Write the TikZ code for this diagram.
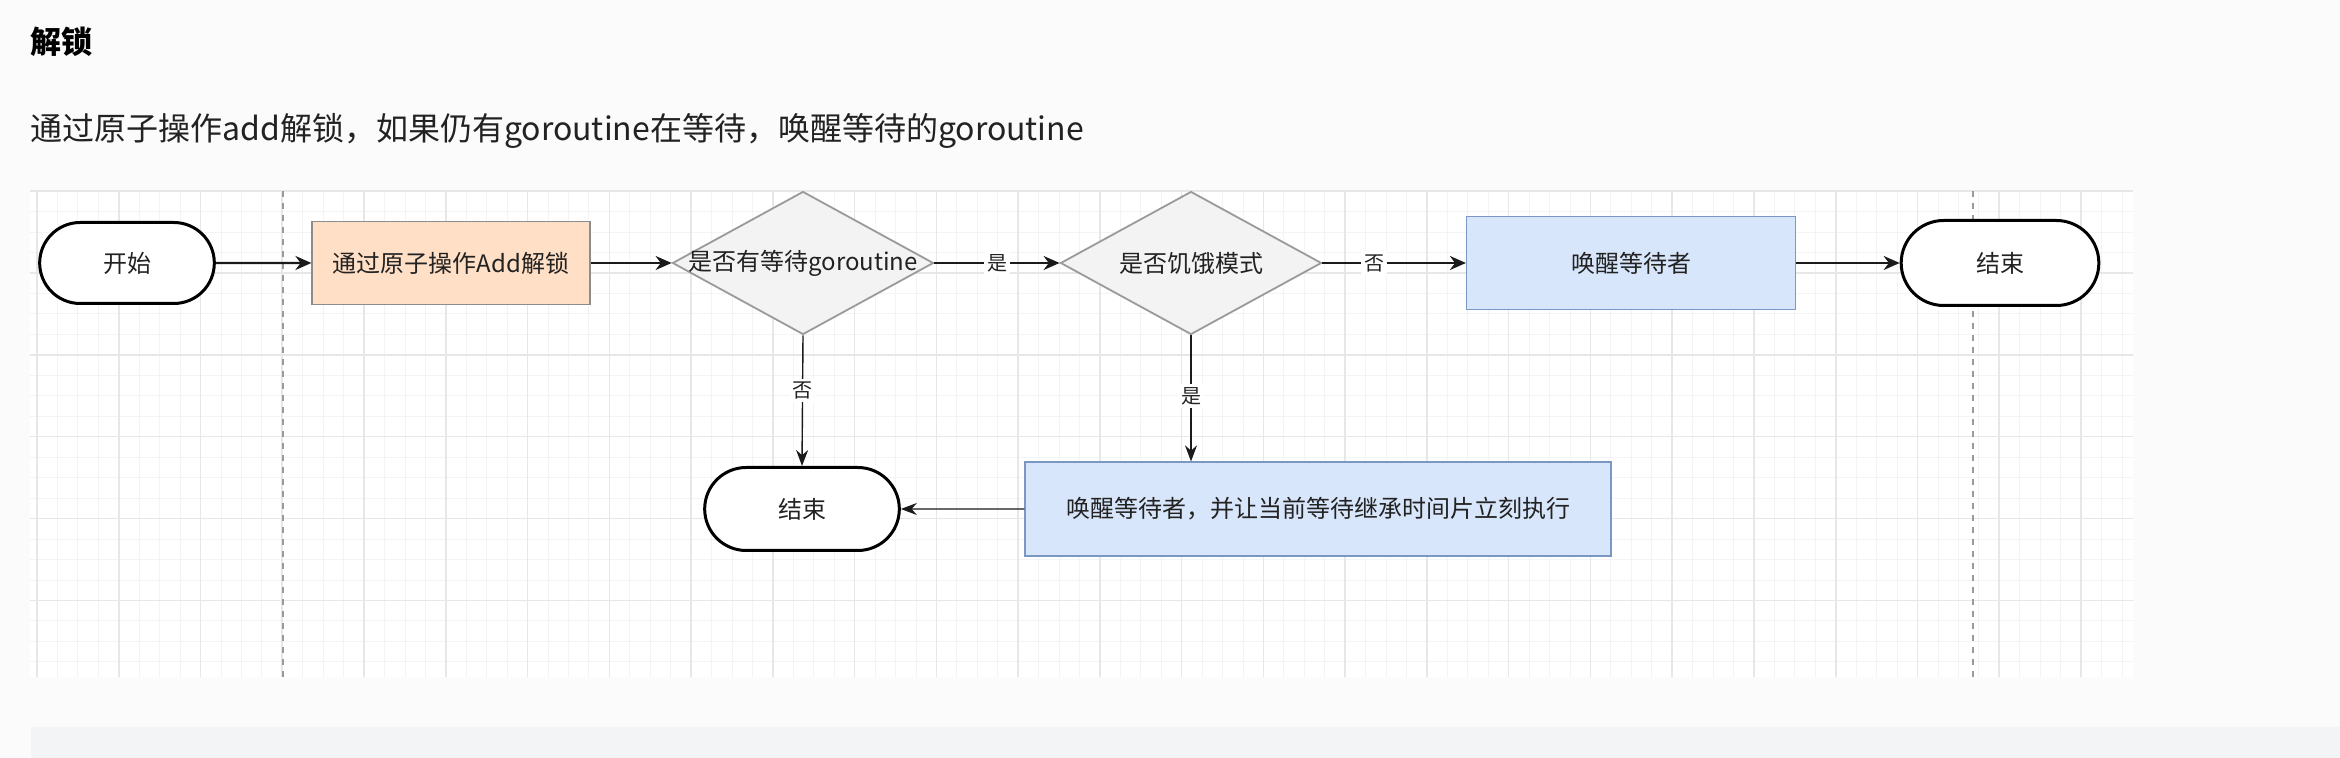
\documentclass[tikz,border=0pt]{standalone}
\usepackage{fontspec}
\newfontfamily\cjk{Noto Sans CJK SC}
\usetikzlibrary{arrows.meta,shapes.geometric,shapes.misc}
\tikzset{
  terminal/.style={rounded rectangle, draw=black, line width=1.5pt, fill=white, text=txtcol, font=\cjk\fontsize{12}{14}\selectfont},
  process/.style={rectangle, line width=0.6pt, text=txtcol, font=\cjk\fontsize{12}{14}\selectfont},
  decision/.style={diamond, draw=decline, fill=decfill, line width=0.9pt, inner sep=0pt, minimum width=130.5pt, minimum height=71.5pt, text=txtcol, font=\cjk\fontsize{12}{14}\selectfont},
  flow/.style={-{Stealth[length=8pt,width=7pt]}, line width=1.1pt, draw=linecol},
  thinflow/.style={-{Stealth[length=8pt,width=6pt]}, line width=0.7pt, draw=linecol},
  edgelabel/.style={fill=white, inner sep=1.5pt, text=txtcol, font=\cjk\fontsize{10}{12}\selectfont},
  minorline/.style={draw=gridminor, line width=0.4pt},
  majorline/.style={draw=gridmajor, line width=0.8pt},
}
\begin{document}
\begin{tikzpicture}[x=0.5pt, y=-0.5pt]
\definecolor{pagebg}{HTML}{FBFBFB}
\definecolor{bandcol}{HTML}{F3F4F6}
\definecolor{gridminor}{HTML}{F4F4F4}
\definecolor{gridmajor}{HTML}{E7E7E7}
\definecolor{txtcol}{HTML}{222222}
\definecolor{linecol}{HTML}{1A1A1A}
\definecolor{decline}{HTML}{9A9A9A}
\definecolor{decfill}{HTML}{F3F3F3}
\definecolor{addfill}{HTML}{FFDFC6}
\definecolor{addline}{HTML}{8C8C8C}
\definecolor{wakefill}{HTML}{D8E6FB}
\definecolor{wakeline}{HTML}{7B98C4}
\useasboundingbox (0,0) rectangle (2340,758);
\fill[pagebg] (0,0) rectangle (2340,758);
\fill[bandcol] (31,727) rectangle (2340,758);
\fill[white] (30,191) rectangle (2133,677);
\foreach \i in {0,...,102} \draw[minorline] ({37+20.44*\i},191) -- ({37+20.44*\i},677);
\foreach \j in {0,...,23} \draw[minorline] (30,{191+20.47*\j}) -- (2133,{191+20.47*\j});
\foreach \i in {0,...,25} \draw[majorline] ({37+81.76*\i},191) -- ({37+81.76*\i},677);
\foreach \j in {0,...,5} \draw[majorline] (30,{191+81.9*\j}) -- (2133,{191+81.9*\j});
\draw[decline, dashed, line width=0.8pt] (283,191) -- (283,677) (1973,191) -- (1973,677);
\node[anchor=west, inner sep=0pt, text=black, font=\cjk\bfseries\fontsize{15.5}{18}\selectfont] (title) at (30,42) {解锁};
\node[anchor=west, inner sep=0pt, text=txtcol, font=\cjk\fontsize{16}{19}\selectfont] (subtitle) at (30,131) {通过原子操作add解锁，如果仍有goroutine在等待，唤醒等待的goroutine};
\node[terminal, minimum width=94pt, minimum height=40.5pt] (start) at (127,263) {开始};
\node[process, draw=addline, fill=addfill, minimum width=139pt, minimum height=41.5pt] (unlock) at (451,263) {通过原子操作Add解锁};
\node[decision] (waitq) at (803,263) {\makebox[0pt]{是否有等待goroutine}};
\node[decision] (starveq) at (1191,263) {\makebox[0pt]{是否饥饿模式}};
\node[process, draw=wakeline, fill=wakefill, minimum width=164.5pt, minimum height=46.5pt] (wake) at (1631,263) {唤醒等待者};
\node[terminal, minimum width=105.5pt, minimum height=42.5pt] (endright) at (2000,263) {结束};
\node[process, draw=wakeline, fill=wakefill, minimum width=293pt, minimum height=47pt] (handoff) at (1318,509) {唤醒等待者，并让当前等待继承时间片立刻执行};
\node[terminal, minimum width=104pt, minimum height=41.5pt] (endlow) at (802,509) {结束};
\draw[flow] (start) -- (unlock);
\draw[flow] (unlock) -- (waitq);
\draw[flow] (waitq) -- node[edgelabel] {是} (starveq);
\draw[flow] (starveq) -- node[edgelabel, pos=0.36] {否} (wake);
\draw[flow] (wake) -- (endright);
\draw[thinflow] (waitq.south) -- node[edgelabel, pos=0.42] {否} (endlow.north);
\draw[thinflow] (starveq.south) -- node[edgelabel, pos=0.48] {是} (starveq.south |- handoff.north);
\draw[thinflow] (handoff) -- (endlow);
\end{tikzpicture}
\end{document}
